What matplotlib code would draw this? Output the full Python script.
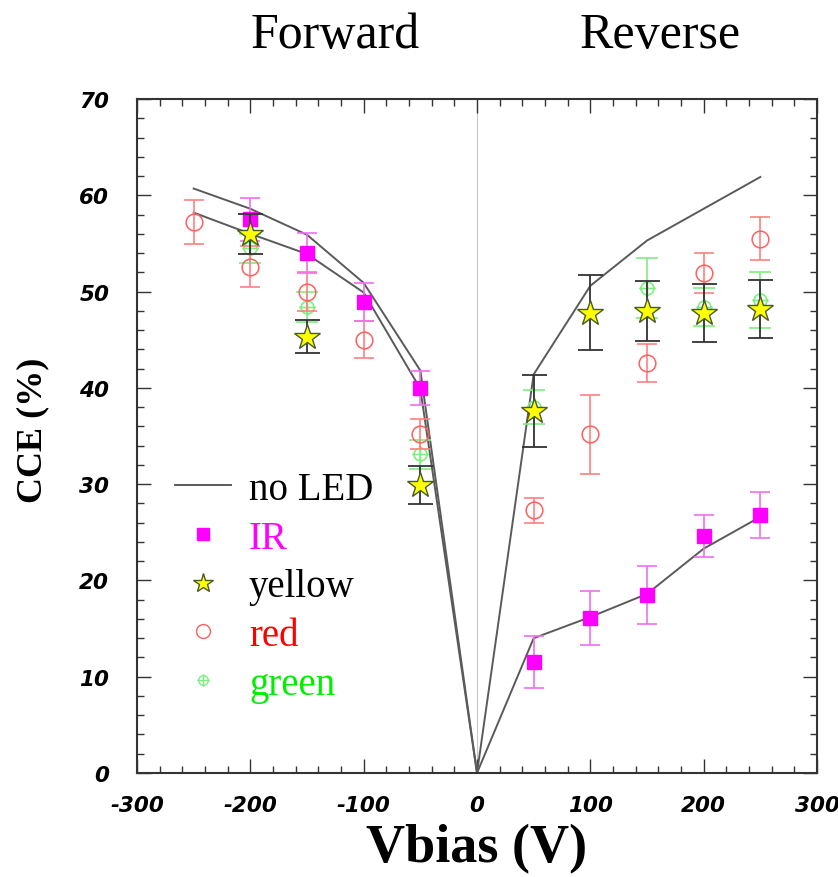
import matplotlib
matplotlib.use("Agg")
import matplotlib.pyplot as plt
import numpy as np
from matplotlib.path import Path
from matplotlib.ticker import MultipleLocator
from matplotlib.lines import Line2D

plt.rcParams["axes.unicode_minus"] = False

# ---- data ----
noled_x = [-250, -200, -150, -100, -50, 0, 50, 100, 150, 200, 250]
noled_a = [60.7, 58.6, 55.9, 50.9, 41.8, 0.0, 41.4, 50.6, 55.3, 58.6, 61.9]
noled_b = [58.2, 56.0, 53.9, 49.9, 39.9, 0.0, 14.0, 16.2, 18.6, 23.3, 26.6]

ir_x = [-200, -150, -100, -50, 50, 100, 150, 200, 250]
ir_y = [57.5, 54.0, 48.9, 40.0, 11.5, 16.1, 18.5, 24.6, 26.8]
ir_e = [2.2, 2.1, 2.0, 1.8, 2.7, 2.8, 3.0, 2.2, 2.4]

yel_x = [-200, -150, -50, 50, 100, 150, 200, 250]
yel_y = [56.0, 45.3, 29.9, 37.6, 47.8, 48.0, 47.8, 48.2]
yel_e = [2.1, 1.7, 2.0, 3.7, 3.9, 3.1, 3.0, 3.0]

red_x = [-250, -200, -150, -100, -50, 50, 100, 150, 200, 250]
red_y = [57.2, 52.6, 50.0, 45.0, 35.2, 27.3, 35.2, 42.6, 51.9, 55.5]
red_e = [2.3, 2.1, 2.0, 1.9, 1.6, 1.3, 4.1, 2.0, 2.1, 2.2]

grn_x = [-200, -150, -50, 50, 150, 200, 250]
grn_y = [54.5, 48.4, 33.1, 38.0, 50.4, 48.4, 49.1]
grn_e = [1.5, 1.6, 1.5, 1.8, 3.1, 2.0, 2.9]

legend_labels = ["no LED", "IR", "yellow", "red", "green"]

# ---- figure ----
W, H = 838, 878
fig = plt.figure(figsize=(W / 100, H / 100), dpi=100)
ax = fig.add_axes([137 / W, 1 - 774 / H, 680 / W, 674 / H])
ax.set_xlim(-300, 300)
ax.set_ylim(0, 70)

ax.axvline(0, color="#c8c8c8", lw=0.8, zorder=0)

grey = "#5a5a5a"
ax.plot(noled_x, noled_a, color=grey, lw=1.4, zorder=2)
ax.plot(noled_x, noled_b, color=grey, lw=1.4, zorder=2)

# circle-plus marker for green
circ = Path.unit_circle()
cross = Path([(-1.3, 0), (1.3, 0), (0, -1.3), (0, 1.3)],
             [Path.MOVETO, Path.LINETO, Path.MOVETO, Path.LINETO])
oplus = Path.make_compound_path(circ, cross)

gcol = "#80ee80"
ax.errorbar(grn_x, grn_y, yerr=grn_e, fmt="none", ecolor=gcol, elinewidth=1.2,
            capsize=8, capthick=1.2, zorder=3)
ax.plot(grn_x, grn_y, linestyle="none", marker=oplus, markersize=12,
        markerfacecolor="none", markeredgecolor=gcol, markeredgewidth=1.2, zorder=3)

ax.errorbar(red_x, red_y, yerr=red_e, fmt="none", ecolor="#ff8080", elinewidth=1.2,
            capsize=7, capthick=1.2, zorder=4)
ax.plot(red_x, red_y, linestyle="none", marker="o", markersize=12,
        markerfacecolor="none", markeredgecolor="#ff6060", markeredgewidth=1.1, zorder=4)

ax.errorbar(ir_x, ir_y, yerr=ir_e, fmt="none", ecolor="#f070f0", elinewidth=1.2,
            capsize=7, capthick=1.2, zorder=5)
ax.plot(ir_x, ir_y, linestyle="none", marker="s", markersize=10,
        markerfacecolor="#ff00ff", markeredgecolor="#ff00ff", zorder=6)

ax.errorbar(yel_x, yel_y, yerr=yel_e, fmt="none", ecolor="#333333", elinewidth=1.3,
            capsize=9, capthick=1.3, zorder=6)
ax.plot(yel_x, yel_y, linestyle="none", marker="*", markersize=19,
        markerfacecolor="#ffff00", markeredgecolor="#4a5a2a", markeredgewidth=1.0, zorder=7)

# legend handles
handles = [
    Line2D([], [], color=grey, lw=1.4),
    Line2D([], [], ls="none", marker="s", markersize=9, markerfacecolor="#ff00ff",
           markeredgecolor="#ff00ff"),
    Line2D([], [], ls="none", marker="*", markersize=15, markerfacecolor="#ffff00",
           markeredgecolor="#4a5a2a"),
    Line2D([], [], ls="none", marker="o", markersize=10, markerfacecolor="none",
           markeredgecolor="#ff6060"),
    Line2D([], [], ls="none", marker=oplus, markersize=9, markerfacecolor="none",
           markeredgecolor=gcol),
]
leg = ax.legend(handles, legend_labels, loc="upper left",
                bbox_to_anchor=(3 / 680, (774 - 437) / 674),
                frameon=False, handlelength=1.45, handletextpad=0.45,
                labelspacing=0.3,
                prop={"family": "Liberation Serif", "size": 28},
                labelcolor=["black", "#ff00ff", "black", "#ff0000", "#00ee00"])

# ticks
ax.xaxis.set_major_locator(MultipleLocator(100))
ax.xaxis.set_minor_locator(MultipleLocator(20))
ax.yaxis.set_major_locator(MultipleLocator(10))
ax.yaxis.set_minor_locator(MultipleLocator(2))
ax.tick_params(which="both", direction="in", top=True, right=True, color="#333333")
ax.tick_params(which="major", length=10, width=1.0)
ax.tick_params(which="minor", length=5, width=1.0)
ax.tick_params(axis="x", pad=16)
ax.tick_params(axis="y", pad=20)
for lab in ax.get_xticklabels() + ax.get_yticklabels():
    lab.set_fontfamily("DejaVu Sans")
    lab.set_fontweight("bold")
    lab.set_fontstyle("italic")
    lab.set_fontsize(15.5)
for s in ax.spines.values():
    s.set_linewidth(1.5)
    s.set_color("#333333")

fig.text(335 / W, 1 - 48 / H, "Forward", ha="center", va="baseline",
         fontsize=36, family="Liberation Serif")
fig.text(660 / W, 1 - 48 / H, "Reverse", ha="center", va="baseline",
         fontsize=36, family="Liberation Serif")
fig.text(33 / W, 1 - 430 / H, "CCE (%)", ha="center", va="center", rotation=90,
         fontsize=26, family="Liberation Serif", fontweight="bold")
fig.text(477 / W, 1 - 862 / H, "Vbias (V)", ha="center", va="baseline",
         fontsize=39, family="Liberation Serif", fontweight="bold")

fig.savefig("out.png", dpi=100, facecolor="white")
